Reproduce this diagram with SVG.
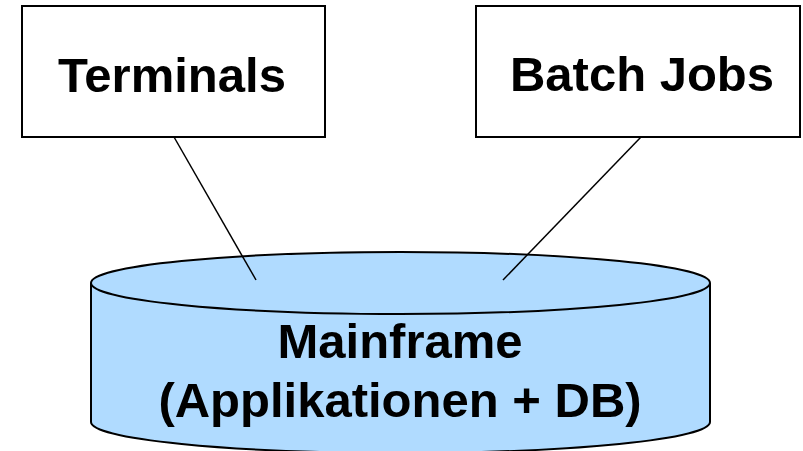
<svg xmlns="http://www.w3.org/2000/svg" width="803" height="451" viewBox="0 0 803 451">
<style>
.box{fill:#fff;stroke:#000;stroke-width:2}
.cyl{fill:#b0dbff;stroke:#000;stroke-width:2}
.lbl{font-family:"Liberation Sans",Arial,sans-serif;font-weight:bold;font-size:49px;fill:#000;text-anchor:middle}
.conn{stroke:#000;stroke-width:1.5;fill:none}
</style>
<rect width="803" height="451" fill="#fff"/>
<g id="mainframe">
<path class="cyl" d="M91,283 L91,422 A309.5,31 0 0 0 710,422 L710,283"/>
<ellipse class="cyl" cx="400.5" cy="283" rx="309.5" ry="31"/>
<text class="lbl" x="400" y="358">Mainframe</text>
<text class="lbl" x="400" y="417">(Applikationen + DB)</text>
</g>
<g id="terminals">
<rect class="box" x="22" y="6" width="303" height="131"/>
<text class="lbl" x="172" y="92">Terminals</text>
</g>
<g id="batchjobs">
<rect class="box" x="476" y="6" width="324" height="131"/>
<text class="lbl" x="642" y="91">Batch Jobs</text>
</g>
<g id="connectors">
<line class="conn" x1="174" y1="137" x2="256" y2="280"/>
<line class="conn" x1="641" y1="137" x2="503" y2="280"/>
</g>
</svg>
